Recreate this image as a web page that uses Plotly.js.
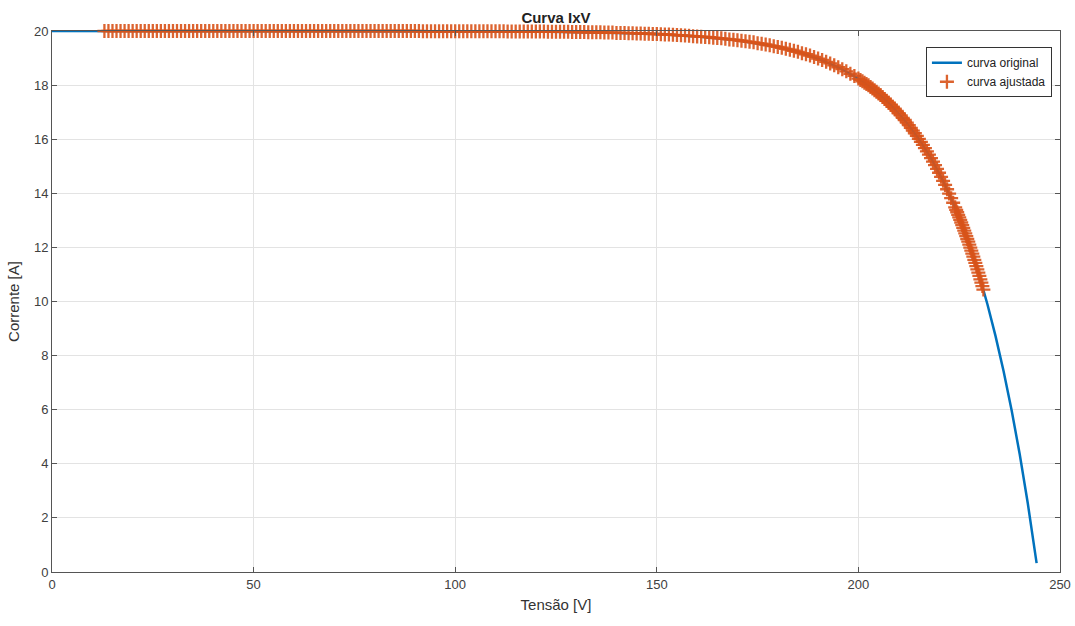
<!DOCTYPE html>
<html>
<head>
<meta charset="utf-8">
<script src="https://cdn.plot.ly/plotly-3.0.1.min.js"></script>
<style>html,body{margin:0;padding:0;background:#fff;}#chart{width:1075px;height:626px;}</style>
</head>
<body>
<div id="chart"></div>
<script>
// Original curve (Tensão [V], Corrente [A])
const originalV = [0, 50, 100, 120, 140, 150, 160, 170, 180, 185, 190, 195, 200, 204, 208, 212, 215, 218, 221, 224, 226, 228, 230, 232, 234, 236, 238, 240, 242, 243, 244.2];
const originalI = [20.00, 20.00, 19.99, 19.98, 19.93, 19.89, 19.80, 19.66, 19.41, 19.23, 18.98, 18.66, 18.24, 17.81, 17.28, 16.61, 16.01, 15.30, 14.46, 13.48, 12.72, 11.88, 10.95, 9.90, 8.73, 7.43, 5.98, 4.36, 2.55, 1.57, 0.33];

// Fitted curve samples
const fitV = [
13,14,15,16,17,18,19,20,21,22,23,24,25,26,27,28,29,30,31,32,33,34,35,36,37,38,39,40,
41,42,43,44,45,46,47,48,49,50,51,52,53,54,55,56,57,58,59,60,61,62,63,64,65,66,67,68,69,70,
71,72,73,74,75,76,77,78,79,80,81,82,83,84,85,86,87,88,89,90,91,92,93,94,95,96,97,98,99,100,
101,102,103,104,105,106,107,108,109,110,111,112,113,114,115,116,117,118,119,120,
121,122,123,124,125,126,127,128,129,130,131,132,133,134,135,136,137,138,139,140,
141,142,143,144,145,146,147,148,149,150,151,152,153,154,155,156,157,158,159,160,
161,162,163,164,165,166,167,168,169,170,171,172,173,174,175,176,177,178,179,180,
181,182,183,184,185,186,187,188,189,190,191,192,193,194,195,196,197,198,199,200,
200.5,201,201.5,202,202.5,203,203.5,204,204.5,205,205.5,206,206.5,207,207.5,208,208.5,209,209.5,210,
210.5,211,211.5,212,212.5,213,213.5,214,214.5,215,215.5,216,216.5,217,217.5,218,218.5,219,219.5,220,
220.5,221,221.5,222,222.5,223,223.5,224,224.25,224.5,224.75,225,225.25,225.5,225.75,226,226.25,226.5,226.75,227,
227.25,227.5,227.75,228,228.25,228.5,228.75,229,229.25,229.5,229.75,230,230.25,230.5,230.75,231
];
const fitI = [
20.00,20.00,20.00,20.00,20.00,20.00,20.00,20.00,20.00,20.00,20.00,20.00,20.00,20.00,20.00,20.00,20.00,20.00,20.00,20.00,20.00,20.00,20.00,20.00,20.00,20.00,20.00,20.00,
20.00,20.00,20.00,20.00,20.00,20.00,20.00,20.00,20.00,20.00,20.00,20.00,20.00,20.00,20.00,20.00,20.00,20.00,20.00,20.00,20.00,20.00,20.00,20.00,20.00,20.00,20.00,20.00,20.00,20.00,
20.00,20.00,20.00,20.00,20.00,20.00,20.00,20.00,20.00,20.00,20.00,20.00,20.00,20.00,20.00,20.00,20.00,20.00,20.00,20.00,20.00,19.99,19.99,19.99,19.99,19.99,19.99,19.99,19.99,19.99,
19.99,19.99,19.99,19.99,19.99,19.99,19.99,19.99,19.99,19.99,19.99,19.99,19.98,19.98,19.98,19.98,19.98,19.98,19.98,19.98,
19.98,19.98,19.97,19.97,19.97,19.97,19.97,19.97,19.96,19.96,19.96,19.96,19.95,19.95,19.95,19.95,19.94,19.94,19.94,19.93,
19.93,19.93,19.92,19.92,19.91,19.91,19.90,19.90,19.89,19.89,19.88,19.87,19.87,19.86,19.85,19.84,19.83,19.82,19.81,19.80,
19.79,19.78,19.77,19.75,19.74,19.73,19.71,19.69,19.68,19.66,19.64,19.62,19.60,19.58,19.55,19.53,19.50,19.47,19.44,19.41,
19.38,19.34,19.31,19.27,19.23,19.18,19.14,19.09,19.04,18.98,18.93,18.86,18.80,18.73,18.66,18.59,18.51,18.42,18.34,18.24,
18.19,18.14,18.09,18.04,17.99,17.93,17.87,17.81,17.75,17.69,17.63,17.56,17.49,17.42,17.35,17.28,17.20,17.13,17.05,16.96,
16.88,16.79,16.71,16.61,16.52,16.42,16.32,16.22,16.12,16.01,15.90,15.79,15.67,15.55,15.43,15.30,15.17,15.04,14.90,14.76,
14.61,14.46,14.31,14.15,13.99,13.82,13.65,13.48,13.39,13.30,13.20,13.11,13.02,12.92,12.82,12.72,12.62,12.52,12.42,12.31,
12.21,12.10,11.99,11.88,11.77,11.66,11.54,11.43,11.31,11.19,11.07,10.95,10.82,10.70,10.57,10.44
];

const xTicks = [0, 50, 100, 150, 200, 250];
const yTicks = [0, 2, 4, 6, 8, 10, 12, 14, 16, 18, 20];

const FONT = "'Liberation Sans Narrow', 'Liberation Sans', Arial, sans-serif";

const traces = [
  {
    x: originalV, y: originalI, type: 'scatter', mode: 'lines',
    name: 'curva original',
    line: {color: '#0072BD', width: 2.5},
    cliponaxis: false
  },
  {
    x: fitV, y: fitI, type: 'scatter', mode: 'markers',
    name: 'curva ajustada',
    marker: {symbol: 'cross-thin', size: 10, color: '#D95319', opacity: 0.9, line: {color: '#D95319', width: 2.3}},
    cliponaxis: false
  }
];

const axisCommon = {
  showgrid: true, gridcolor: '#e3e3e3', gridwidth: 1,
  showline: true, linecolor: '#555555', linewidth: 1,
  mirror: 'ticks', ticks: 'inside', ticklen: 5, tickcolor: '#555555', tickwidth: 1,
  zeroline: false,
  tickfont: {family: FONT, size: 13, color: '#404040'}
};

const layout = {
  width: 1075, height: 626,
  paper_bgcolor: '#ffffff', plot_bgcolor: '#ffffff',
  margin: {l: 52, r: 15, t: 31, b: 54},
  showlegend: true,
  title: {
    text: '<b>Curva IxV</b>',
    font: {family: FONT, size: 15, color: '#222'},
    x: 0.5172, xanchor: 'center', y: 0.972, yanchor: 'middle'
  },
  xaxis: Object.assign({}, axisCommon, {
    range: [0, 250], tickvals: xTicks, ticktext: xTicks.map(String),
    title: {text: 'Tensão [V]', font: {family: FONT, size: 15, color: '#333'}, standoff: 8}
  }),
  yaxis: Object.assign({}, axisCommon, {
    range: [0, 20], tickvals: yTicks, ticktext: yTicks.map(String),
    title: {text: 'Corrente [A]', font: {family: FONT, size: 15, color: '#333'}, standoff: 10}
  }),
  legend: {
    x: 0.992, xanchor: 'right', y: 0.97, yanchor: 'top',
    bgcolor: '#ffffff', bordercolor: '#333', borderwidth: 1,
    font: {family: FONT, size: 12, color: '#222'},
    tracegroupgap: 0, itemwidth: 30
  }
};

Plotly.newPlot('chart', traces, layout, {displayModeBar: false, staticPlot: true});
</script>
</body>
</html>
